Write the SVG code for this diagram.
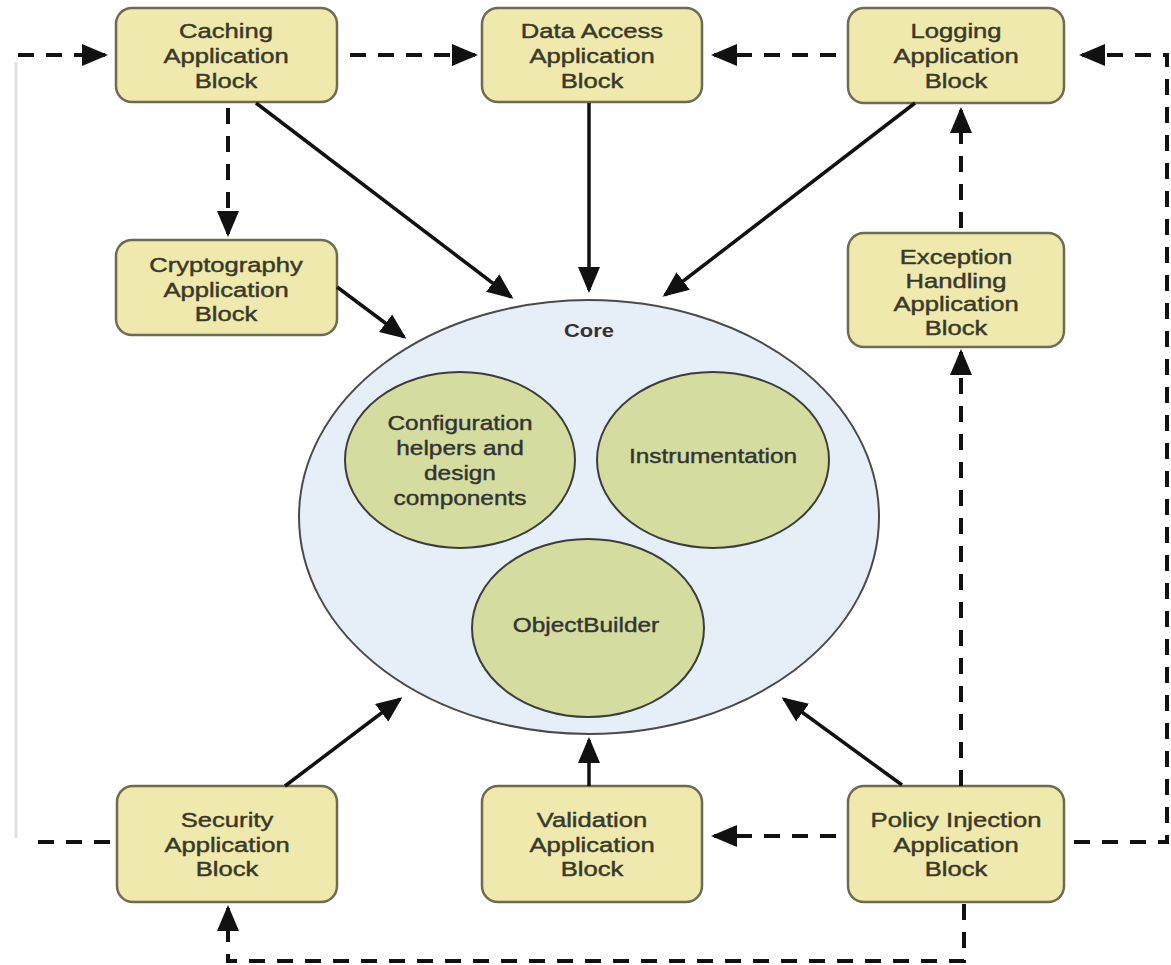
<svg xmlns="http://www.w3.org/2000/svg" width="1171" height="965" viewBox="0 0 1171 965">
<style>
.box{fill:#EFE9AE;stroke:#6E6B50;stroke-width:2.5}
.core{fill:#E6EEF7;stroke:#4A4A4A;stroke-width:2}
.sub{fill:#D4DD9F;stroke:#3C3C3C;stroke-width:2}
.t{font-family:"Liberation Sans",Arial,sans-serif;font-size:21px;fill:#3A3928;stroke:#3A3928;stroke-width:0.45;text-anchor:middle}
.e{font-family:"Liberation Sans",Arial,sans-serif;font-size:20px;fill:#333;stroke:#333;stroke-width:0.4;text-anchor:middle}
.b{font-family:"Liberation Sans",Arial,sans-serif;font-size:18px;font-weight:bold;fill:#333;text-anchor:middle}
.solid{fill:none;stroke:#111;stroke-width:3.5}
.dash{fill:none;stroke:#111;stroke-width:4;stroke-dasharray:16 12}
.faint{fill:none;stroke:#E0E0E0;stroke-width:3}
</style>
<defs>
<marker id="ah" markerUnits="userSpaceOnUse" markerWidth="26" markerHeight="22" refX="23" refY="11" orient="auto">
<path d="M0,0 L26,11 L0,22 z" fill="#111"/>
</marker>
</defs>
<rect width="1171" height="965" fill="#FFFFFF"/>

<g id="core">
<ellipse class="core" cx="589" cy="517" rx="290" ry="217"/>
<g transform="translate(589 0) scale(1.22 1)"><text class="b" x="0" y="337">Core</text></g>
</g>
<g id="config">
<ellipse class="sub" cx="460" cy="460" rx="115" ry="88"/>
<g transform="translate(460 0) scale(1.22 1)">
<text class="e" x="0" y="430">Configuration</text>
<text class="e" x="0" y="455">helpers and</text>
<text class="e" x="0" y="480">design</text>
<text class="e" x="0" y="505">components</text>
</g>
</g>
<g id="instrumentation">
<ellipse class="sub" cx="713" cy="460" rx="116" ry="88"/>
<g transform="translate(713 0) scale(1.22 1)"><text class="e" x="0" y="463">Instrumentation</text></g>
</g>
<g id="objectbuilder">
<ellipse class="sub" cx="588" cy="628" rx="116" ry="89"/>
<g transform="translate(586 0) scale(1.22 1)"><text class="e" x="0" y="632">ObjectBuilder</text></g>
</g>

<g id="caching">
<rect class="box" x="116" y="8" width="221" height="94" rx="16"/>
<g transform="translate(226 0) scale(1.22 1)">
<text class="t" x="0" y="38">Caching</text>
<text class="t" x="0" y="63">Application</text>
<text class="t" x="0" y="88">Block</text>
</g>
</g>
<g id="dataaccess">
<rect class="box" x="482" y="8" width="220" height="94" rx="16"/>
<g transform="translate(592 0) scale(1.22 1)">
<text class="t" x="0" y="38">Data Access</text>
<text class="t" x="0" y="63">Application</text>
<text class="t" x="0" y="88">Block</text>
</g>
</g>
<g id="logging">
<rect class="box" x="848" y="8" width="216" height="95" rx="16"/>
<g transform="translate(956 0) scale(1.22 1)">
<text class="t" x="0" y="38">Logging</text>
<text class="t" x="0" y="63">Application</text>
<text class="t" x="0" y="88">Block</text>
</g>
</g>
<g id="cryptography">
<rect class="box" x="116" y="240" width="221" height="95" rx="16"/>
<g transform="translate(226 0) scale(1.22 1)">
<text class="t" x="0" y="272">Cryptography</text>
<text class="t" x="0" y="297">Application</text>
<text class="t" x="0" y="321">Block</text>
</g>
</g>
<g id="exception">
<rect class="box" x="848" y="233" width="216" height="114" rx="16"/>
<g transform="translate(956 0) scale(1.22 1)">
<text class="t" x="0" y="264">Exception</text>
<text class="t" x="0" y="288">Handling</text>
<text class="t" x="0" y="311">Application</text>
<text class="t" x="0" y="335">Block</text>
</g>
</g>
<g id="security">
<rect class="box" x="117" y="786" width="220" height="116" rx="16"/>
<g transform="translate(227 0) scale(1.22 1)">
<text class="t" x="0" y="827">Security</text>
<text class="t" x="0" y="852">Application</text>
<text class="t" x="0" y="876">Block</text>
</g>
</g>
<g id="validation">
<rect class="box" x="482" y="786" width="220" height="116" rx="16"/>
<g transform="translate(592 0) scale(1.22 1)">
<text class="t" x="0" y="827">Validation</text>
<text class="t" x="0" y="852">Application</text>
<text class="t" x="0" y="876">Block</text>
</g>
</g>
<g id="policyinjection">
<rect class="box" x="848" y="786" width="216" height="116" rx="16"/>
<g transform="translate(956 0) scale(1.22 1)">
<text class="t" x="0" y="827">Policy Injection</text>
<text class="t" x="0" y="852">Application</text>
<text class="t" x="0" y="876">Block</text>
</g>
</g>

<g id="connectors">
<line class="solid" x1="256" y1="103" x2="511" y2="297" marker-end="url(#ah)"/>
<line class="solid" x1="589" y1="103" x2="589" y2="290" marker-end="url(#ah)"/>
<line class="solid" x1="915" y1="103" x2="665" y2="295" marker-end="url(#ah)"/>
<line class="solid" x1="337" y1="287" x2="404" y2="337" marker-end="url(#ah)"/>
<line class="solid" x1="285" y1="786" x2="400" y2="699" marker-end="url(#ah)"/>
<line class="solid" x1="589" y1="786" x2="589" y2="740" marker-end="url(#ah)"/>
<line class="solid" x1="902" y1="785" x2="784" y2="699" marker-end="url(#ah)"/>

<line class="faint" x1="16" y1="62" x2="16" y2="838"/>
<line class="dash" x1="18" y1="55" x2="105" y2="55" marker-end="url(#ah)"/>
<line class="dash" x1="110" y1="842" x2="26" y2="842"/>
<line class="dash" x1="350" y1="55" x2="475" y2="55" marker-end="url(#ah)"/>
<line class="dash" x1="836" y1="55" x2="714" y2="55" marker-end="url(#ah)"/>
<line class="dash" x1="228" y1="108" x2="228" y2="234" marker-end="url(#ah)"/>
<line class="dash" x1="961" y1="228" x2="961" y2="110" marker-end="url(#ah)"/>
<line class="dash" x1="961" y1="786" x2="961" y2="352" marker-end="url(#ah)"/>
<line class="dash" x1="836" y1="836" x2="714" y2="836" marker-end="url(#ah)"/>
<path class="dash" d="M1074,842 H1167 V55 H1082" marker-end="url(#ah)"/>
<path class="dash" d="M964,904 V961 H228 V908" marker-end="url(#ah)"/>
</g>
</svg>
